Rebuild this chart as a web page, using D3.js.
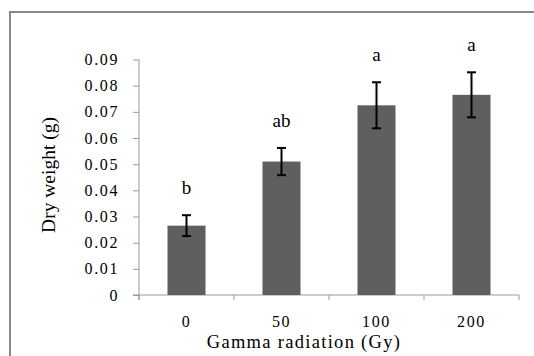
<!DOCTYPE html>
<html>
<head>
<meta charset="utf-8">
<script src="https://cdn.jsdelivr.net/npm/d3@7"></script>
<style>
  body { margin: 0; background: #fff; }
  svg text { font-family: "Liberation Serif", serif; fill: #000; }
</style>
</head>
<body>
<script>
// data
var doses = ["0", "50", "100", "200"];
var dryWeight = [0.0265, 0.0510, 0.0725, 0.0765];
var stdErr = [0.0040, 0.0052, 0.0088, 0.0086];
var groups = ["b", "ab", "a", "a"];
var yTicks = [0, 0.01, 0.02, 0.03, 0.04, 0.05, 0.06, 0.07, 0.08, 0.09];

var width = 534, height = 356;

var svg = d3.select("body").append("svg")
    .attr("width", width)
    .attr("height", height);

// outer frame (right and bottom edges fall outside the picture)
svg.append("rect")
    .attr("x", 10).attr("y", 12)
    .attr("width", 560).attr("height", 400)
    .attr("fill", "none")
    .attr("stroke", "#888")
    .attr("stroke-width", 2);

// scales
var x = d3.scaleBand()
    .domain(doses)
    .range([139, 519])
    .paddingInner(0.6)
    .paddingOuter(0.3);

var y = d3.scaleLinear()
    .domain([0, 0.09])
    .range([295, 59.5]);

var rows = doses.map(function(d, i) {
  return {dose: d, mean: dryWeight[i], err: stdErr[i], grp: groups[i]};
});

// y axis
var yAxis = svg.append("g")
    .attr("transform", "translate(139,0)")
    .call(d3.axisLeft(y).tickValues(yTicks).tickSize(6).tickPadding(14)
      .tickFormat(function(d) { return d === 0 ? "0" : d3.format(".2f")(d); }));
yAxis.select(".domain").attr("stroke", "#999").attr("d", "M0," + y(0.09) + "V300");
yAxis.selectAll(".tick line").attr("stroke", "#999");
yAxis.selectAll(".tick text")
    .style("font-size", "16px")
    .style("letter-spacing", "1.6px");

// x axis: ticks sit between the categories
var xAxis = svg.append("g")
    .attr("transform", "translate(0,295)");
xAxis.append("line")
    .attr("x1", 133).attr("x2", 519)
    .attr("stroke", "#999");
var bounds = doses.map(function(d) { return x(d) - x.step() * 0.3; });
bounds.push(519);
xAxis.selectAll(".xtick")
    .data(bounds)
  .enter().append("line")
    .attr("x1", function(d) { return d; })
    .attr("x2", function(d) { return d; })
    .attr("y1", 0).attr("y2", 5)
    .attr("stroke", "#999");
xAxis.selectAll(".xlab")
    .data(doses)
  .enter().append("text")
    .attr("x", function(d) { return x(d) + x.bandwidth() / 2; })
    .attr("y", 32)
    .attr("text-anchor", "middle")
    .style("font-size", "16px")
    .style("letter-spacing", "1.6px")
    .text(function(d) { return d; });

// bars
svg.selectAll(".bar")
    .data(rows)
  .enter().append("rect")
    .attr("x", function(d) { return x(d.dose); })
    .attr("y", function(d) { return y(d.mean); })
    .attr("width", x.bandwidth())
    .attr("height", function(d) { return y(0) - y(d.mean); })
    .attr("fill", "#5f5f5f");

// error bars
var eb = svg.selectAll(".err")
    .data(rows)
  .enter().append("g")
    .attr("stroke", "#000")
    .attr("stroke-width", 2);
eb.append("line")
    .attr("x1", function(d) { return x(d.dose) + x.bandwidth() / 2; })
    .attr("x2", function(d) { return x(d.dose) + x.bandwidth() / 2; })
    .attr("y1", function(d) { return y(d.mean - d.err); })
    .attr("y2", function(d) { return y(d.mean + d.err); });
eb.selectAll(".cap")
    .data(function(d) { return [d.mean - d.err, d.mean + d.err].map(function(v) { return {dose: d.dose, v: v}; }); })
  .enter().append("line")
    .attr("x1", function(d) { return x(d.dose) + x.bandwidth() / 2 - 4.5; })
    .attr("x2", function(d) { return x(d.dose) + x.bandwidth() / 2 + 4.5; })
    .attr("y1", function(d) { return y(d.v); })
    .attr("y2", function(d) { return y(d.v); });

// significance letters
svg.selectAll(".grp")
    .data(rows)
  .enter().append("text")
    .attr("x", function(d) { return x(d.dose) + x.bandwidth() / 2; })
    .attr("y", function(d) { return y(d.mean + d.err) - 21; })
    .attr("text-anchor", "middle")
    .style("font-size", "19px")
    .text(function(d) { return d.grp; });

// axis titles
svg.append("text")
    .attr("x", 304)
    .attr("y", 348)
    .attr("text-anchor", "middle")
    .style("font-size", "18.5px")
    .style("letter-spacing", "1.3px")
    .text("Gamma radiation (Gy)");

svg.append("text")
    .attr("transform", "translate(55,175) rotate(-90)")
    .attr("text-anchor", "middle")
    .style("font-size", "19.5px")
    .text("Dry weight (g)");
</script>
</body>
</html>
